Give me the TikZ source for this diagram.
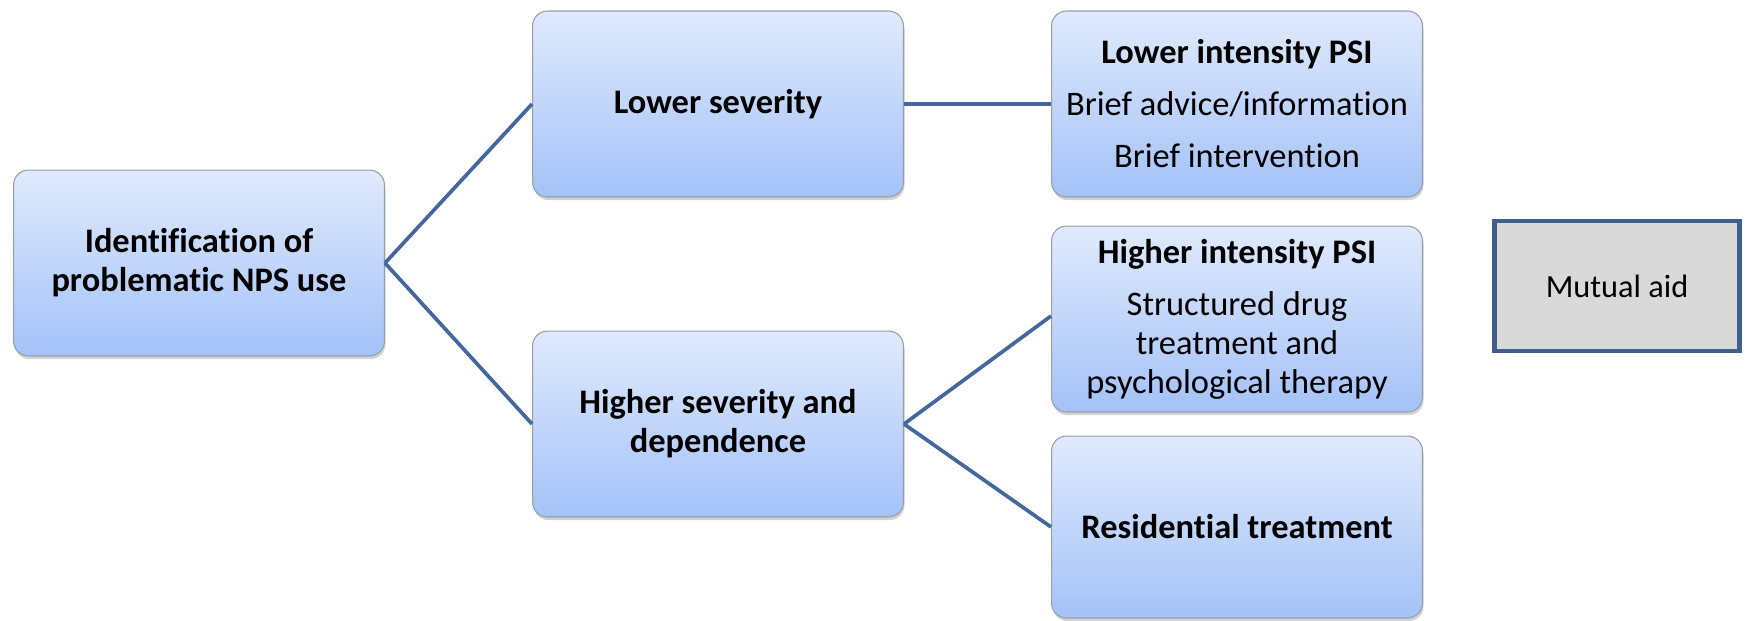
\documentclass[tikz,border=0pt]{standalone}
\usepackage{fontspec}
\setmainfont{Carlito}[Ligatures=NoCommon]
\usetikzlibrary{shadows}
\definecolor{boxtop}{RGB}{224,234,252}
\definecolor{boxbot}{RGB}{164,194,248}
\definecolor{boxline}{RGB}{150,158,172}
\definecolor{linkblue}{RGB}{68,104,158}
\definecolor{aidfill}{RGB}{217,217,217}
\definecolor{aidline}{RGB}{62,94,140}

\begin{document}
\begin{tikzpicture}[x=0.02cm, y=-0.02cm,
		stage/.style={draw=boxline, line width=0.6pt, rounded corners=0.3cm, top color=boxtop, bottom color=boxbot,
			minimum width=7.42cm, minimum height=3.72cm, align=center, font=\fontsize{19.6}{22.2}\selectfont,
			drop shadow={shadow xshift=0.6pt, shadow yshift=-1.8pt, opacity=0.35}},
		link/.style={draw=linkblue, line width=2.1pt}]
		\useasboundingbox (0,0) rectangle (1746,620);
		\node[stage] (ident) at (199,263) {\textbf{Identification of}\\\textbf{problematic NPS use}};
		\node[stage] (lowsev) at (718,104) {\textbf{Lower severity}};
		\node[stage] (highsev) at (718,424) {\textbf{Higher severity and}\\\textbf{dependence}};
		\node[stage] (lowpsi) at (1237,104) {\textbf{Lower intensity PSI}\\[0.26cm]Brief advice/information\\[0.26cm]Brief intervention};
		\node[stage] (highpsi) at (1237,319) {\textbf{Higher intensity PSI}\\[0.26cm]Structured drug\\treatment and\\psychological therapy};
		\node[stage, minimum height=3.64cm] (resid) at (1237,527) {\textbf{Residential treatment}};
		\node[draw=aidline, line width=2.8pt, fill=aidfill, minimum width=4.9cm, minimum height=2.6cm,
			font=\fontsize{18.4}{22}\selectfont] (aid) at (1617,286) {Mutual aid};
		% connectors
		\draw[link] (ident.east) -- (lowsev.west);
		\draw[link] (ident.east) -- (highsev.west);
		\draw[link] (lowsev.east) -- (lowpsi.west);
		\draw[link] (highsev.east) -- ([yshift=0.06cm]highpsi.west);
		\draw[link] (highsev.east) -- (resid.west);
	\end{tikzpicture}
\end{document}
